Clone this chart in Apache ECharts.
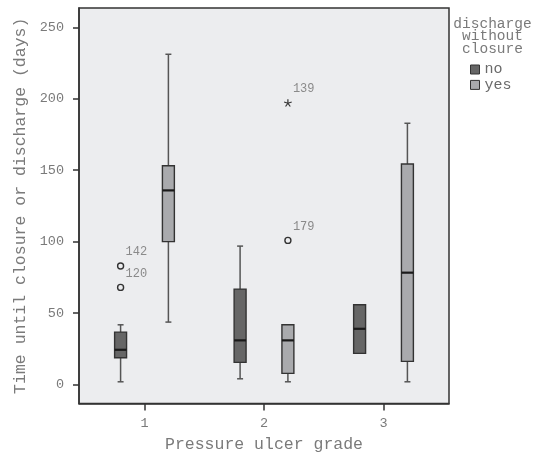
<!DOCTYPE html>
<html><head><meta charset="utf-8">
<script src="https://cdn.jsdelivr.net/npm/echarts@6/dist/echarts.min.js"></script>
<style>html,body{margin:0;padding:0;background:#fff}#c{width:541px;height:455px}</style>
</head><body><div id="c"></div>
<script>
const categories = [1, 2, 3];
const yTicks = [0, 50, 100, 150, 200, 250];
// discharge without closure = no
const noMin = [1.8, 3.9, 21.7];
const noQ1  = [18.6, 15.4, 21.7];
const noMed = [24.2, 30.8, 38.9];
const noQ3  = [36.6, 66.7, 55.7];
const noMax = [41.7, 96.8, 55.7];
// discharge without closure = yes
const yesMin = [43.6, 1.8, 1.8];
const yesQ1  = [99.9, 7.7, 16.1];
const yesMed = [135.8, 30.8, 78.2];
const yesQ3  = [153.1, 41.7, 154.3];
const yesMax = [231.1, 41.7, 182.8];
// outliers
const outGroup = [1, 1, 2, 2];
const outSeries = ['no', 'no', 'yes', 'yes'];
const outValue = [82.9, 67.9, 100.8, 196.8];
const outId = ['142', '120', '179', '139'];
const outKind = ['circle', 'circle', 'circle', 'star'];

const FONT = "'Courier New', 'Liberation Mono', monospace";
const OFFSET = 0.2, BOXW = 0.1, CAPW = 0.05;
const DARK = '#666666', LIGHT = '#a9aaad';

function boxData(mn, q1, md, q3, mx) {
  return categories.map((c, i) => [c, mn[i], q1[i], md[i], q3[i], mx[i]]);
}
function makeBox(offset) {
  return function (params, api) {
    const x = api.value(0) + offset;
    const mn = api.value(1), q1 = api.value(2), md = api.value(3), q3 = api.value(4), mx = api.value(5);
    const hw = api.size([BOXW, 0])[0] / 2;
    const cw = api.size([CAPW, 0])[0] / 2;
    const p = v => api.coord([x, v]);
    const ch = [];
    const wStyle = { stroke: '#555', lineWidth: 1.5 };
    if (mn < q1) {
      const a = p(mn), b = p(q1);
      ch.push({ type: 'line', shape: { x1: a[0], y1: a[1], x2: b[0], y2: b[1] }, style: wStyle });
      ch.push({ type: 'line', shape: { x1: a[0] - cw, y1: a[1], x2: a[0] + cw, y2: a[1] }, style: wStyle });
    }
    if (mx > q3) {
      const a = p(mx), b = p(q3);
      ch.push({ type: 'line', shape: { x1: a[0], y1: a[1], x2: b[0], y2: b[1] }, style: wStyle });
      ch.push({ type: 'line', shape: { x1: a[0] - cw, y1: a[1], x2: a[0] + cw, y2: a[1] }, style: wStyle });
    }
    const t = p(q3), bt = p(q1), m = p(md);
    ch.push({ type: 'rect', shape: { x: t[0] - hw, y: t[1], width: hw * 2, height: bt[1] - t[1] },
      style: { fill: api.visual('color'), stroke: '#333', lineWidth: 1.4 } });
    ch.push({ type: 'line', shape: { x1: m[0] - hw, y1: m[1], x2: m[0] + hw, y2: m[1] },
      style: { stroke: '#1a1a1a', lineWidth: 2.2 } });
    return { type: 'group', children: ch };
  };
}
const outData = outValue.map((v, i) => [outGroup[i] + (outSeries[i] === 'no' ? -OFFSET : OFFSET), v, outId[i], outKind[i]]);
function renderOut(params, api) {
  const i = params.dataIndex;
  const c = api.coord([api.value(0), api.value(1)]);
  const ch = [];
  if (outData[i][3] === 'circle') {
    ch.push({ type: 'circle', shape: { cx: c[0], cy: c[1], r: 3 }, style: { fill: 'none', stroke: '#333', lineWidth: 1.4 } });
  } else {
    for (let k = 0; k < 5; k++) {
      const ang = -Math.PI / 2 + k * 2 * Math.PI / 5;
      ch.push({ type: 'line', shape: { x1: c[0], y1: c[1], x2: c[0] + 4 * Math.cos(ang), y2: c[1] + 4 * Math.sin(ang) },
        style: { stroke: '#333', lineWidth: 1.2 } });
    }
  }
  ch.push({ type: 'text', x: c[0] + 5, y: c[1] - 14,
    style: { text: outData[i][2], fill: '#8a8a8a', font: '12px ' + FONT, textAlign: 'left', textVerticalAlign: 'middle' } });
  return { type: 'group', children: ch };
}

const chart = echarts.init(document.getElementById('c'));
chart.setOption({
  animation: false,
  backgroundColor: '#ffffff',
  grid: { left: 79, right: 92, top: 8, bottom: 51.5, outerBoundsMode: 'none', containLabel: false,
    show: true, backgroundColor: '#ecedef', borderColor: '#333', borderWidth: 1.5 },
  xAxis: {
    type: 'value', min: 0.452, max: 3.548,
    name: 'Pressure ulcer grade', nameLocation: 'middle', nameGap: 33,
    nameTextStyle: { fontFamily: FONT, fontSize: 16.5, color: '#7a7a7a' },
    axisLine: { show: true, onZero: false, lineStyle: { color: '#333', width: 1.5 } },
    splitLine: { show: false },
    axisTick: { show: true, customValues: categories, length: 7, lineStyle: { color: '#333', width: 1.5 } },
    axisLabel: { customValues: categories, margin: 13, fontFamily: FONT, fontSize: 13.5, color: '#7a7a7a' }
  },
  yAxis: {
    type: 'value', min: -13.4, max: 263.5,
    name: 'Time until closure or discharge (days)', nameLocation: 'middle', nameGap: 50, nameRotate: 90,
    nameTextStyle: { fontFamily: FONT, fontSize: 16.5, color: '#7a7a7a' },
    axisLine: { show: true, onZero: false, lineStyle: { color: '#333', width: 1.5 } },
    splitLine: { show: false },
    axisTick: { show: true, customValues: yTicks, length: 6, lineStyle: { color: '#333', width: 1.5 } },
    axisLabel: { customValues: yTicks, margin: 15, fontFamily: FONT, fontSize: 13.5, color: '#7a7a7a' }
  },
  legend: {
    data: ['no', 'yes'], orient: 'vertical', left: 465, top: 57,
    itemWidth: 9, itemHeight: 9, itemGap: 0.4, icon: 'rect',
    textStyle: { fontFamily: FONT, fontSize: 15, color: '#6a6a6a', lineHeight: 14 },
    itemStyle: { borderColor: '#333', borderWidth: 1 }
  },
  graphic: [{
    type: 'text', x: 492.5, y: 17.5,
    style: { text: 'discharge\nwithout\nclosure', font: '14.5px ' + FONT, fill: '#7a7a7a', lineHeight: 12.5, textAlign: 'center' }
  }],
  series: [
    { name: 'no', type: 'custom', renderItem: makeBox(-OFFSET), itemStyle: { color: DARK },
      encode: { x: 0, y: [1, 2, 3, 4, 5] }, data: boxData(noMin, noQ1, noMed, noQ3, noMax) },
    { name: 'yes', type: 'custom', renderItem: makeBox(OFFSET), itemStyle: { color: LIGHT },
      encode: { x: 0, y: [1, 2, 3, 4, 5] }, data: boxData(yesMin, yesQ1, yesMed, yesQ3, yesMax) },
    { name: 'outliers', type: 'custom', renderItem: renderOut, encode: { x: 0, y: 1 }, data: outData }
  ]
});
</script></body></html>
